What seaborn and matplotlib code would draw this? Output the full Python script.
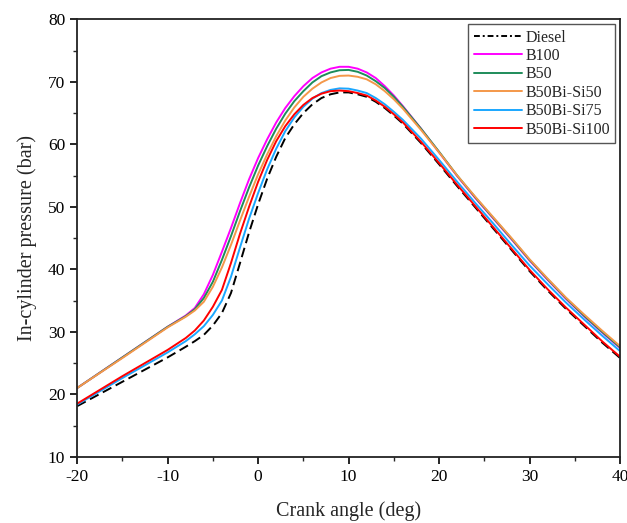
import numpy as np
import pandas as pd
import matplotlib
matplotlib.use("Agg")
import matplotlib.pyplot as plt
from matplotlib.lines import Line2D
from matplotlib.ticker import MultipleLocator
import seaborn as sns

# Crank angle (deg)
crank = [-20, -15, -10, -8, -7, -6, -5, -4, -3, -2, -1, 0, 1, 2, 3, 4, 5, 6, 7, 8, 9,
         10, 11, 12, 13, 14, 15, 16, 18, 20, 22, 24, 26, 28, 30, 32, 34, 36, 38, 40]

diesel = [18.1, 22.0, 25.9, 27.6, 28.5, 29.5, 31.0, 33.0, 36.2, 41.0, 45.9, 50.4, 54.5, 58.0,
          61.0, 63.2, 65.0, 66.4, 67.4, 68.0, 68.3, 68.3, 68.0, 67.6, 66.8, 65.8, 64.6, 63.3,
          60.2, 56.8, 53.3, 49.9, 46.5, 43.1, 39.7, 36.6, 33.7, 31.0, 28.3, 25.8]
b100 = [21.0, 25.9, 30.8, 32.6, 33.8, 36.0, 39.1, 42.8, 46.6, 50.6, 54.4, 57.8, 60.8, 63.5,
        65.8, 67.7, 69.3, 70.6, 71.5, 72.1, 72.4, 72.4, 72.1, 71.5, 70.6, 69.3, 67.8, 66.1,
        62.5, 58.7, 54.9, 51.4, 48.1, 44.8, 41.4, 38.3, 35.3, 32.5, 29.9, 27.4]
b50 = [21.0, 25.9, 30.8, 32.5, 33.6, 35.4, 38.0, 41.5, 45.3, 49.3, 53.1, 56.6, 59.7, 62.5,
       64.9, 66.9, 68.5, 69.9, 70.9, 71.5, 71.85, 71.9, 71.6, 71.0, 70.1, 69.0, 67.6, 66.0,
       62.5, 58.8, 55.0, 51.5, 48.2, 44.9, 41.5, 38.4, 35.4, 32.6, 30.0, 27.5]
si50 = [21.0, 25.8, 30.7, 32.4, 33.4, 34.8, 37.2, 40.3, 43.9, 47.8, 51.6, 55.2, 58.4, 61.3,
        63.8, 65.9, 67.6, 68.9, 69.9, 70.6, 70.95, 71.0, 70.8, 70.4, 69.6, 68.5, 67.2, 65.7,
        62.3, 58.7, 55.0, 51.6, 48.3, 45.0, 41.6, 38.5, 35.5, 32.8, 30.2, 27.7]
si75 = [18.35, 22.6, 26.7, 28.5, 29.6, 30.9, 32.7, 35.0, 38.8, 43.5, 48.1, 52.2, 56.0, 59.3,
        62.1, 64.3, 66.0, 67.3, 68.2, 68.7, 68.95, 68.9, 68.6, 68.2, 67.4, 66.4, 65.2, 63.9,
        60.9, 57.5, 54.0, 50.6, 47.3, 43.9, 40.6, 37.6, 34.7, 32.0, 29.4, 26.9]
si100 = [18.5, 22.9, 27.1, 29.0, 30.2, 31.8, 34.0, 36.7, 41.0, 45.7, 50.0, 54.0, 57.5, 60.5,
         62.9, 64.8, 66.3, 67.4, 68.1, 68.5, 68.6, 68.5, 68.2, 67.8, 67.0, 66.0, 64.8, 63.5,
         60.4, 57.0, 53.5, 50.1, 46.7, 43.3, 39.9, 36.8, 33.9, 31.2, 28.5, 26.0]

labels = ["Diesel", "B100", "B50", "B50Bi-Si50", "B50Bi-Si75", "B50Bi-Si100"]
series = [diesel, b100, b50, si50, si75, si100]
colors = ["#000000", "#FF00FF", "#1E8C5A", "#F4984A", "#1AA7FF", "#FF0000"]

sns.set_style("ticks")
plt.rcParams["font.family"] = ["Liberation Serif", "DejaVu Serif"]
plt.rcParams["axes.unicode_minus"] = False

fig = plt.figure(figsize=(6.27, 5.23), dpi=100)
ax = fig.add_axes([0.123, 0.1266, 0.866, 0.8365])

for lab, ys, col in zip(labels, series, colors):
    df = pd.DataFrame({"x": crank, "y": ys})
    ls = (0, (5, 2.5)) if lab == "Diesel" else "-"
    sns.lineplot(data=df, x="x", y="y", ax=ax, color=col, linewidth=1.4,
                 linestyle=ls, legend=False, sort=False, errorbar=None)

ax.set_xlim(-20, 40)
ax.set_ylim(10, 80)
ax.xaxis.set_major_locator(MultipleLocator(10))
ax.xaxis.set_minor_locator(MultipleLocator(5))
ax.yaxis.set_major_locator(MultipleLocator(10))
ax.yaxis.set_minor_locator(MultipleLocator(5))
ax.tick_params(axis="both", which="major", direction="out", length=5, width=1.2,
               labelsize=12.5, top=False, right=False, colors="black")
ax.tick_params(axis="both", which="minor", direction="out", length=3, width=1.0,
               top=False, right=False)
for s in ax.spines.values():
    s.set_visible(True)
    s.set_linewidth(1.3)
    s.set_color("#222222")

ax.set_xlabel("Crank angle (deg)", fontsize=14.5, labelpad=12)
ax.set_ylabel("In-cylinder pressure (bar)", fontsize=14.5, labelpad=8)

handles = []
for lab, col in zip(labels, colors):
    ls = (0, (3, 1.5, 1, 1.5)) if lab == "Diesel" else "-"
    handles.append(Line2D([0], [0], color=col, linewidth=1.4, linestyle=ls))
leg = ax.legend(handles, labels, loc="upper right", fontsize=11.5, frameon=True,
                fancybox=False, edgecolor="#555555", framealpha=1,
                handlelength=3.0, handletextpad=0.2, labelspacing=0.15,
                borderpad=0.35, borderaxespad=0.3)
leg.get_frame().set_linewidth(1.0)

fig.savefig("out.png", dpi=100)
